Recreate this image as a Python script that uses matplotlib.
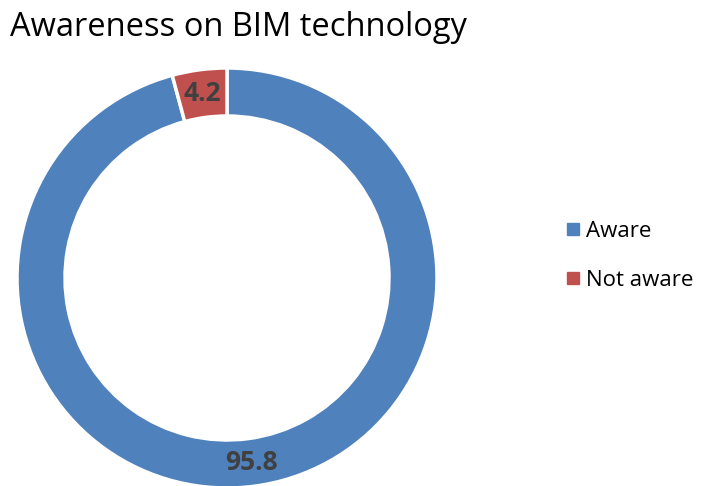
import matplotlib
matplotlib.use("Agg")
import matplotlib.pyplot as plt
from matplotlib.lines import Line2D
import numpy as np

categories = ["Aware", "Not aware"]
values = [95.8, 4.2]
labels = ["95.8", "4.2"]
colors = ["#4F81BD", "#C0504D"]

W, H = 707, 486
fig = plt.figure(figsize=(W / 100, H / 100), dpi=100)
plt.rcParams['font.family'] = ['Open Sans', 'DejaVu Sans']

cx, cy, R = 227, 278, 210
ax = fig.add_axes([(cx - R) / W, (H - cy - R) / H, 2 * R / W, 2 * R / H])

width = 1 - 162 / 210
wedges, texts = ax.pie(values, colors=colors, startangle=90, counterclock=False,
                       radius=1, labels=labels, labeldistance=None,
                       wedgeprops=dict(width=width, edgecolor='white', linewidth=2.5))
ax.set_xlim(-1, 1)
ax.set_ylim(-1, 1)
ax.set_aspect('equal')
ax.axis('off')

start = 90
for v, lab in zip(values, labels):
    mid = start - v / sum(values) * 360 / 2
    r = 1 - width / 2
    ax.text(r * np.cos(np.radians(mid)), r * np.sin(np.radians(mid)), lab,
            ha='center', va='center', fontsize=19, fontweight='bold', color='#404040')
    start -= v / sum(values) * 360

fig.text(10 / W, 1 - 28 / H, "Awareness on BIM technology", fontsize=23.5,
         ha='left', va='center', color='black')

handles = [Line2D([0], [0], marker='s', linestyle='none', markersize=9,
                  markerfacecolor=c, markeredgecolor=c) for c in colors]
fig.legend(handles, categories, loc='center left', bbox_to_anchor=(543 / W, 1 - 256 / H),
           frameon=False, fontsize=16, handletextpad=0.15, labelspacing=1.25,
           handlelength=0.9)

fig.savefig("out.png", dpi=100)
